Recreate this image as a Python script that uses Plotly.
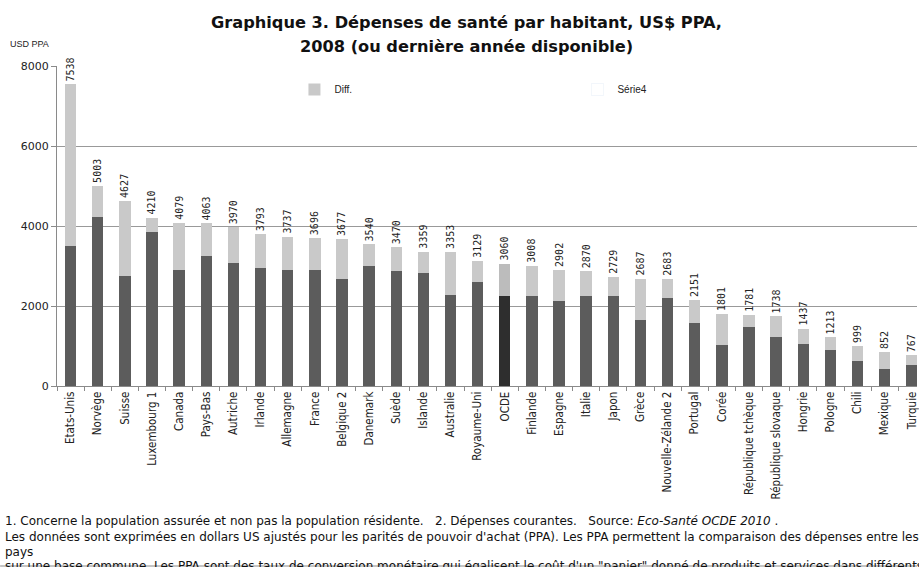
import plotly.graph_objects as go

countries = ["Etats-Unis", "Norvège", "Suisse", "Luxembourg 1", "Canada", "Pays-Bas", "Autriche",
             "Irlande", "Allemagne", "France", "Belgique 2", "Danemark", "Suède", "Islande",
             "Australie", "Royaume-Uni", "OCDE", "Finlande", "Espagne", "Italie", "Japon", "Grèce",
             "Nouvelle-Zélande 2", "Portugal", "Corée", "République tchèque", "République slovaque",
             "Hongrie", "Pologne", "Chili", "Mexique", "Turquie"]
totals = [7538, 5003, 4627, 4210, 4079, 4063, 3970, 3793, 3737, 3696, 3677, 3540, 3470, 3359,
          3353, 3129, 3060, 3008, 2902, 2870, 2729, 2687, 2683, 2151, 1801, 1781, 1738, 1437,
          1213, 999, 852, 767]
public = [3510, 4225, 2760, 3850, 2900, 3240, 3085, 2950, 2900, 2900, 2685, 3000, 2865, 2815,
          2265, 2600, 2250, 2250, 2135, 2250, 2250, 1650, 2190, 1565, 1025, 1485, 1215, 1050,
          890, 615, 425, 535]
diff = [t - p for t, p in zip(totals, public)]
yticks = [0, 2000, 4000, 6000, 8000]

W, H = 919, 567
L, T = 57, 66
Y0 = 386          # pixel row of value 0
PH = Y0 - T       # plot height in px
B = H - Y0

def px(x):
    return (x - L) / (W - L)

def py(y):
    return (Y0 - y) / PH

dark_colors = ["#2e2e2e" if c == "OCDE" else "#5c5c5c" for c in countries]
light_colors = ["#bcbcbc" if c == "OCDE" else "#c9c9c9" for c in countries]

fig = go.Figure()
fig.add_trace(go.Bar(x=countries, y=public, marker=dict(color=dark_colors, line_width=0),
                     width=0.42, showlegend=False, name="Public"))
fig.add_trace(go.Bar(x=countries, y=diff, marker=dict(color=light_colors, line_width=0),
                     width=0.42, name="Diff.", text=[str(t) for t in totals],
                     textposition="outside", textangle=-90, cliponaxis=False,
                     constraintext="none",
                     textfont=dict(family="DejaVu Sans Mono", size=10, color="#222222")))
fig.add_trace(go.Bar(x=countries, y=[None] * len(countries), name="Série4",
                     marker=dict(color="rgba(0,0,0,0)")))

fig.update_layout(
    width=W, height=H, barmode="stack",
    margin=dict(l=L, r=0, t=T, b=B, pad=0),
    paper_bgcolor="white", plot_bgcolor="white",
    showlegend=True,
    legend=dict(orientation="h", x=px(295), y=py(75), xanchor="left", yanchor="top",
                traceorder="normal", entrywidth=238,
                font=dict(family="Liberation Sans", size=10, color="#222"),
                bgcolor="rgba(0,0,0,0)", itemclick=False),
    font=dict(family="DejaVu Sans", color="#222"),
    xaxis=dict(type="category", range=[-0.5, 31.19], tickangle=-90, showline=True,
               linecolor="#8a8a8a", ticks="outside", tickson="boundaries", ticklen=4,
               tickcolor="#8a8a8a",
               tickfont=dict(family="DejaVu Sans Condensed", size=11.5, color="#222"),
               showgrid=False),
    yaxis=dict(range=[0, 8000], tickvals=yticks, ticktext=[str(v) for v in yticks],
               showline=True, linecolor="#8a8a8a", ticks="outside", ticklen=5,
               tickcolor="#8a8a8a", gridcolor="#999999", gridwidth=1,
               tickfont=dict(family="DejaVu Sans", size=11, color="#222"), zeroline=False),
)

titles = [
    ("<b>Graphique 3. Dépenses de santé par habitant, US$ PPA,</b>", 22),
    ("<b>2008 (ou dernière année disponible)</b>", 46),
]
for txt, yy in titles:
    fig.add_annotation(text=txt, xref="paper", yref="paper", x=px(467), y=py(yy),
                       xanchor="center", yanchor="middle", showarrow=False,
                       font=dict(family="DejaVu Sans", size=16.2, color="#111"))

fig.add_annotation(text="USD PPA", xref="paper", yref="paper", x=px(8), y=py(44),
                   xanchor="left", yanchor="middle", showarrow=False,
                   font=dict(family="Liberation Sans", size=9, color="#222"))

notes = [
    ("1. Concerne la population assurée et non pas la population résidente.   2. Dépenses courantes.   Source: <i>Eco-Santé OCDE 2010</i> .", 521),
    ("Les données sont exprimées en dollars US ajustés pour les parités de pouvoir d'achat (PPA). Les PPA permettent la comparaison des dépenses entre les", 537),
    ("pays", 552),
    ("sur une base commune. Les PPA sont des taux de conversion monétaire qui égalisent le coût d'un \"panier\" donné de produits et services dans différents", 566),
]
for txt, yy in notes:
    fig.add_annotation(text=txt, xref="paper", yref="paper", x=px(3), y=py(yy),
                       xanchor="left", yanchor="middle", showarrow=False,
                       font=dict(family="DejaVu Sans", size=12, color="#111"))

fig.add_shape(type="line", xref="paper", yref="paper", x0=px(0), x1=1.0,
              y0=py(566), y1=py(566), line=dict(color="#8a8a8a", width=1))

fig.write_html("out.html", config={"displayModeBar": False},
               post_script="document.body.style.margin='0';")
